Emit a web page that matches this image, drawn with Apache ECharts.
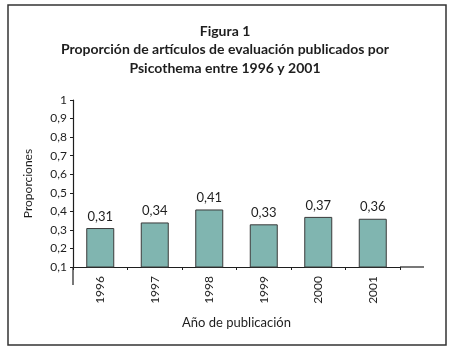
<!DOCTYPE html>
<html>
<head>
<meta charset="utf-8">
<script src="https://cdn.jsdelivr.net/npm/echarts@6/dist/echarts.min.js"></script>
<style>
  html, body { margin: 0; padding: 0; background: #fff; }
  #chart { width: 450px; height: 352px; }
</style>
</head>
<body>
<div id="chart"></div>
<script>
// datos
var years = ['1996', '1997', '1998', '1999', '2000', '2001'];
var proportions = [0.31, 0.34, 0.41, 0.33, 0.37, 0.36];
var titleLines = [
    'Figura 1',
    'Proporción de artículos de evaluación publicados por',
    'Psicothema entre 1996 y 2001'
];

var chart = echarts.init(document.getElementById('chart'));
var ink = '#1e1e1e';
var fontName = 'Lato';

function coma(v) {
    return String(v).replace('.', ',');
}

var option = {
    backgroundColor: '#fff',
    animation: false,
    title: {
        text: titleLines.join('\n'),
        left: 'center',
        top: 17,
        textStyle: {
            fontFamily: fontName,
            fontSize: 14,
            fontWeight: 'bold',
            color: ink,
            lineHeight: 18.5
        }
    },
    grid: {
        left: 73,
        right: 50,
        top: 100,
        bottom: 85
    },
    xAxis: {
        type: 'category',
        data: years,
        name: 'Año de publicación',
        nameLocation: 'middle',
        nameGap: 49,
        nameTextStyle: { fontFamily: fontName, fontSize: 13, color: ink },
        axisLine: { lineStyle: { color: ink, width: 1.2 } },
        axisTick: { show: true, length: 3, lineStyle: { color: ink } },
        axisLabel: {
            rotate: 90,
            margin: 9,
            fontFamily: fontName,
            fontSize: 12,
            color: ink
        }
    },
    yAxis: {
        type: 'value',
        min: 0.1,
        max: 1,
        interval: 0.1,
        name: 'Proporciones',
        nameLocation: 'middle',
        nameGap: 39,
        nameTextStyle: { fontFamily: fontName, fontSize: 12, color: ink },
        splitLine: { show: false },
        axisLine: { show: true, lineStyle: { color: ink, width: 1.2 } },
        axisTick: { show: true, length: 3, lineStyle: { color: ink } },
        axisLabel: {
            margin: 6,
            fontFamily: fontName,
            fontSize: 12,
            color: ink,
            formatter: function (v) {
                var r = Math.round(v * 10) / 10;
                return r === 1 ? '1' : coma(r.toFixed(1));
            }
        }
    },
    series: [
        {
            type: 'bar',
            data: proportions,
            barWidth: 28,
            itemStyle: {
                color: '#80b5b0',
                borderColor: '#3a3a3a',
                borderWidth: 1
            },
            label: {
                show: true,
                position: 'top',
                distance: 5,
                fontFamily: fontName,
                fontSize: 13,
                color: ink,
                formatter: function (p) { return coma(p.value.toFixed(2)); }
            }
        }
    ],
    graphic: [
        // marco de la figura
        {
            type: 'rect',
            shape: { x: 8, y: 5, width: 438, height: 340 },
            style: { fill: null, stroke: '#333', lineWidth: 1.5 },
            silent: true
        },
        // prolongación de los ejes
        {
            type: 'line',
            shape: { x1: 73, y1: 267, x2: 73, y2: 285 },
            style: { stroke: ink, lineWidth: 1.2 },
            silent: true
        },
        {
            type: 'line',
            shape: { x1: 400, y1: 267, x2: 424, y2: 267 },
            style: { stroke: ink, lineWidth: 1.2 },
            silent: true
        }
    ]
};

chart.setOption(option);
</script>
</body>
</html>
